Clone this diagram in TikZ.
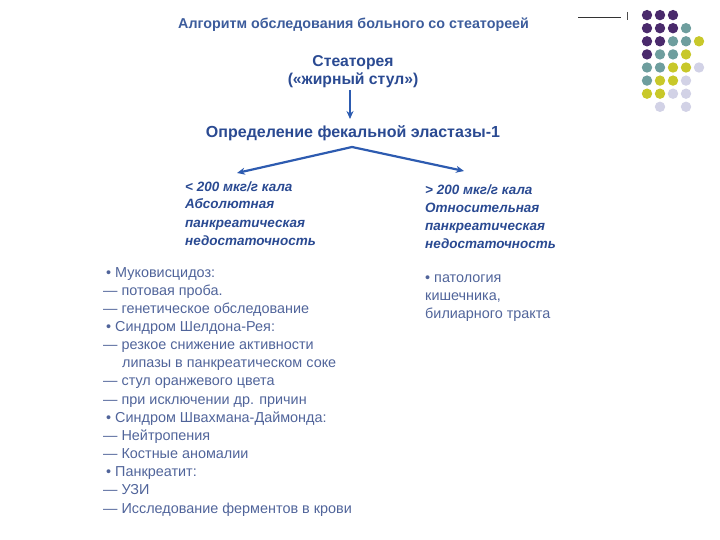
\documentclass[tikz,border=0pt]{standalone}
\usepackage{fontspec}
\setmainfont{Liberation Sans}
\usetikzlibrary{positioning}
\usetikzlibrary{arrows.meta}

\definecolor{titleblue}{HTML}{3C5C9C}
\definecolor{headblue}{HTML}{2A4A92}
\definecolor{textblue}{HTML}{50649A}
\definecolor{arrowblue}{HTML}{2D5BB0}
\definecolor{dotpurple}{HTML}{4A2A6C}
\definecolor{dotteal}{HTML}{6E9E9E}
\definecolor{dotyellow}{HTML}{C8C82A}
\definecolor{dotlav}{HTML}{D2D2E6}

\tikzset{
  head/.style={font=\fontsize{15.7}{18}\selectfont\bfseries, text=headblue, align=center, inner sep=0pt},
  branch/.style={font=\fontsize{13.5}{18}\selectfont\bfseries\itshape, text=headblue, align=left, anchor=base west, inner sep=0pt},
  listtext/.style={font=\fontsize{14.4}{18.15}\selectfont, text=textblue, align=left, anchor=base west, inner sep=0pt},
  flowarrow/.style={draw=arrowblue, line width=2.6pt, -{Stealth[length=8pt,width=7pt]}}
}

\begin{document}
\begin{tikzpicture}[x=1pt,y=-1pt]
\useasboundingbox (0,0) rectangle (720,540);

% title
\node[font=\fontsize{14.3}{16}\selectfont\bfseries, text=titleblue, anchor=base west, inner sep=0pt]
  (title) at (178,28.5) {Алгоритм обследования больного со стеатореей};
\draw[black!80, line width=0.6pt] (578,17) -- (621,17);
\draw[black!70, line width=0.8pt] (627,12) -- (627,20);

% dots
\foreach \c/\r in {1/1,2/1,3/1,1/2,2/2,3/2,1/3,2/3,1/4}
  \fill[dotpurple] (634+13*\c, 2+13.1*\r) circle (5.2);
\foreach \c/\r in {4/2,3/3,4/3,2/4,3/4,1/5,2/5,1/6}
  \fill[dotteal] (634+13*\c, 2+13.1*\r) circle (5.2);
\foreach \c/\r in {5/3,4/4,3/5,4/5,2/6,3/6,1/7,2/7}
  \fill[dotyellow] (634+13*\c, 2+13.1*\r) circle (5.2);
\foreach \c/\r in {5/5,4/6,3/7,4/7,2/8,4/8}
  \fill[dotlav] (634+13*\c, 2+13.1*\r) circle (5.2);

% flow
\node[head] (steat) at (353,72) {Стеаторея\\(«жирный стул»)};
\node[head, font=\fontsize{16}{18}\selectfont\bfseries] (elast) at (353,133) {Определение фекальной эластазы-1};
\draw[flowarrow] (350,90) -- (350,119);

\coordinate (apex) at (352,147);
\coordinate (ltip) at (237,173);
\coordinate (rtip) at (464,171);
\draw[flowarrow, line width=2.2pt] (apex) -- (ltip);
\draw[flowarrow, line width=2.2pt] (apex) -- (rtip);

% branches
\node[branch] (low) at (185,245) {< 200 мкг/г кала\\Абсолютная\\панкреатическая\\недостаточность};
\node[branch] (high) at (425,248) {> 200 мкг/г кала\\Относительная\\панкреатическая\\недостаточность};

% lists
\node[listtext] (causes) at (103,513) {%
\hspace*{3pt}• Муковисцидоз:\\
— потовая проба.\\
— генетическое обследование\\
\hspace*{3pt}• Синдром Шелдона-Рея:\\
— резкое снижение активности\\
\hspace*{19pt}липазы в панкреатическом соке\\
— стул оранжевого цвета\\
— при исключении др. причин\\
\hspace*{3pt}• Синдром Швахмана-Даймонда:\\
— Нейтропения\\
— Костные аномалии\\
\hspace*{3pt}• Панкреатит:\\
— УЗИ\\
— Исследование ферментов в крови};
\node[listtext] (other) at (425,318.5) {• патология\\кишечника,\\билиарного тракта};
\end{tikzpicture}
\end{document}
